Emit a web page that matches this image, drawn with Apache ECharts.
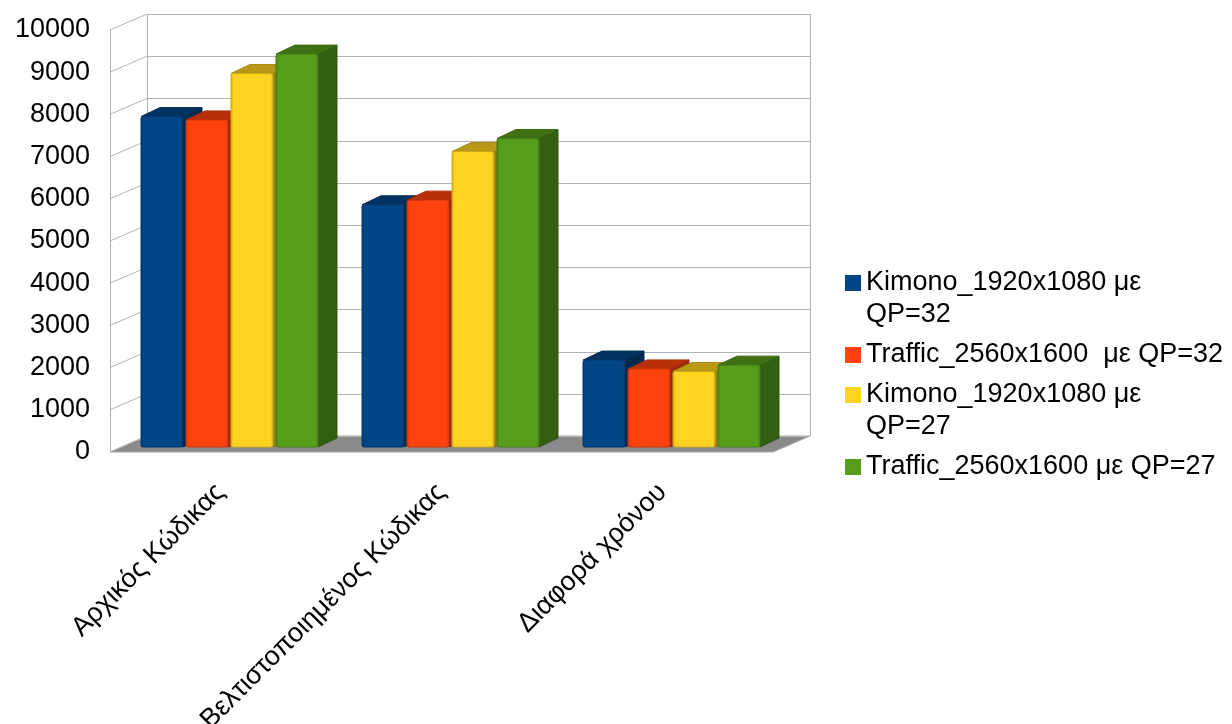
<!DOCTYPE html>
<html>
<head>
<meta charset="utf-8">
<script src="https://cdn.jsdelivr.net/npm/echarts@6/dist/echarts.min.js"></script>
<style>
  html, body { margin: 0; padding: 0; background: #ffffff; }
  #chart { width: 1232px; height: 724px; }
</style>
</head>
<body>
<div id="chart"></div>
<script>
// ---- data ----
const categories = ['Αρχικός Κώδικας', 'Βελτιστοποιημένος Κώδικας', 'Διαφορά χρόνου'];
const seriesNames = [
  'Kimono_1920x1080 με QP=32',
  'Traffic_2560x1600  με QP=32',
  'Kimono_1920x1080 με QP=27',
  'Traffic_2560x1600 με QP=27'
];
const kimonoQP32 = [7830, 5740, 2060];
const trafficQP32 = [7750, 5850, 1850];
const kimonoQP27 = [8850, 7000, 1790];
const trafficQP27 = [9310, 7310, 1940];
const valueTicks = [0, 1000, 2000, 3000, 4000, 5000, 6000, 7000, 8000, 9000, 10000];

// ---- styling ----
const palette = ['#004586', '#ff420e', '#ffd320', '#579d1c'];
const seriesValues = [kimonoQP32, trafficQP32, kimonoQP27, trafficQP27];
const twoLineLegend = [true, false, true, false];
const FONT = 'Liberation Sans';
const FONT_SIZE = 27;
const LINE_H = 32;

// pseudo-3D projection offsets (pixels)
const WALL_DEPTH = [37, -16];   // front plane -> back wall
const BAR_SHIFT = [9, -5];      // front plane -> bar front faces
const BAR_DEPTH = [19, -9];     // bar front face -> bar back face
const BAR_FRAC = 42 / 221;      // bar width as share of the category band
const GAP_FRAC = 3 / 221;       // gap between bars as share of the band
const GRID_COLOR = '#b3b3b3';

// legend swatches; the two-line variant keeps the square level with the first line
const ICON = 16;
const SWATCH_ONE_LINE = 'rect';
const SWATCH_TWO_LINE = (function () {
  const h = 2 * LINE_H;
  const t = (LINE_H - ICON) / 2;
  return 'path://M0,' + t + 'L' + ICON + ',' + t + 'L' + ICON + ',' + (t + ICON) + 'L0,' + (t + ICON) + 'Z' +
    ' M0,0L0.01,0 M0,' + h + 'L0.01,' + h;
})();
const legendIconCenters = [283, 355, 395, 467];

function shade(hex, k) {
  const n = parseInt(hex.slice(1), 16);
  const r = Math.round(((n >> 16) & 255) * k);
  const g = Math.round(((n >> 8) & 255) * k);
  const b = Math.round((n & 255) * k);
  return 'rgb(' + r + ',' + g + ',' + b + ')';
}

const px = v => Math.round(v) + 0.5;

// walls, floor and gridlines of the box
function renderFrame(params, api) {
  const cs = params.coordSys;
  const left = cs.x, right = cs.x + cs.width;
  const [dx, dy] = WALL_DEPTH;
  const y = api.coord([0, api.value(1)])[1];
  const line = { stroke: GRID_COLOR, lineWidth: 1 };
  const children = [];
  if (params.dataIndex === 0) {
    const yTop = api.coord([0, valueTicks[valueTicks.length - 1]])[1];
    children.push({
      type: 'polygon',
      shape: { points: [[left, y], [right, y], [right + dx, y + dy], [left + dx, y + dy]] },
      style: { fill: '#8a8a8a', stroke: '#a6a6a6', lineWidth: 1 }
    });
    children.push({ type: 'line', shape: { x1: px(left + dx), y1: yTop + dy, x2: px(left + dx), y2: y + dy }, style: line });
    children.push({ type: 'line', shape: { x1: px(right + dx), y1: yTop + dy, x2: px(right + dx), y2: y + dy }, style: line });
    children.push({ type: 'line', shape: { x1: px(left), y1: yTop, x2: px(left), y2: y }, style: line });
  }
  children.push({ type: 'line', shape: { x1: left + dx, y1: px(y + dy), x2: right + dx, y2: px(y + dy) }, style: line });
  children.push({ type: 'line', shape: { x1: left, y1: y, x2: left + dx, y2: y + dy }, style: line });
  return { type: 'group', children };
}

// one 3D bar: side face, top face, front face
function makeBarRenderer(seriesIdx) {
  const base = palette[seriesIdx];
  return function (params, api) {
    const cat = api.value(0);
    const val = api.value(1);
    const band = api.size([1, 0])[0];
    const w = band * BAR_FRAC;
    const gap = band * GAP_FRAC;
    const groupW = 4 * w + 3 * gap;
    const p0 = api.coord([cat, 0]);
    const p1 = api.coord([cat, val]);
    const x = p0[0] - groupW / 2 + seriesIdx * (w + gap) + BAR_SHIFT[0];
    const yb = p0[1] + BAR_SHIFT[1];
    const yt = p1[1] + BAR_SHIFT[1];
    const [ddx, ddy] = BAR_DEPTH;
    return {
      type: 'group',
      children: [
        {
          type: 'polygon',
          shape: { points: [[x + w, yt], [x + w + ddx, yt + ddy], [x + w + ddx, yb + ddy], [x + w, yb]] },
          style: { fill: shade(base, 0.6), stroke: shade(base, 0.55), lineWidth: 1 }
        },
        {
          type: 'polygon',
          shape: { points: [[x, yt], [x + w, yt], [x + w + ddx, yt + ddy], [x + ddx, yt + ddy]] },
          style: { fill: shade(base, 0.72), stroke: shade(base, 0.66), lineWidth: 1 }
        },
        {
          type: 'rect',
          shape: { x: x, y: yt, width: w, height: yb - yt, r: 2 },
          style: {
            fill: {
              type: 'linear', x: 0, y: 0, x2: 1, y2: 0,
              colorStops: [
                { offset: 0, color: shade(base, 0.82) },
                { offset: 0.07, color: base },
                { offset: 0.93, color: base },
                { offset: 1, color: shade(base, 0.82) }
              ]
            },
            stroke: shade(base, 0.8),
            lineWidth: 1
          }
        }
      ]
    };
  };
}

const chart = echarts.init(document.getElementById('chart'), null, { renderer: 'canvas' });

const barSeries = seriesNames.map((name, i) => ({
  type: 'custom',
  name: name,
  z: 3,
  itemStyle: { color: palette[i] },
  encode: { x: 0, y: 1 },
  data: seriesValues[i].map((v, c) => [c, v]),
  renderItem: makeBarRenderer(i)
}));

const legends = seriesNames.map((name, i) => {
  const two = twoLineLegend[i];
  return {
    data: [{ name: name, icon: two ? SWATCH_TWO_LINE : SWATCH_ONE_LINE }],
    left: 845,
    // box top sits half a line above the first text line's centre
    top: legendIconCenters[i] - LINE_H / 2,
    orient: 'vertical',
    padding: 0,
    itemGap: 0,
    itemWidth: ICON,
    itemHeight: two ? 2 * LINE_H : ICON,
    symbolKeepAspect: true,
    selectedMode: false,
    formatter: two ? (n => n.replace(' QP', '\nQP')) : '{name}',
    textStyle: {
      fontFamily: FONT,
      fontSize: FONT_SIZE,
      lineHeight: LINE_H,
      color: '#000000'
    }
  };
});

const option = {
  animation: false,
  backgroundColor: '#ffffff',
  color: palette,
  textStyle: { fontFamily: FONT },
  grid: {
    left: 110, top: 30, width: 663, height: 422,
    containLabel: false,
    outerBoundsMode: 'none'
  },
  xAxis: {
    type: 'category',
    data: categories,
    boundaryGap: true,
    axisLine: { show: false },
    axisTick: { show: false },
    splitLine: { show: false },
    axisLabel: {
      interval: 0,
      rotate: 45,
      margin: 36,
      fontFamily: FONT,
      fontSize: FONT_SIZE,
      color: '#000000',
      hideOverlap: false
    }
  },
  yAxis: {
    type: 'value',
    min: 0,
    max: 10000,
    interval: 1000,
    axisLine: { show: false },
    axisTick: { show: false },
    splitLine: { show: false },
    axisLabel: {
      margin: 20,
      fontFamily: FONT,
      fontSize: FONT_SIZE,
      color: '#000000',
      formatter: v => String(v)
    }
  },
  legend: legends,
  series: [
    {
      type: 'custom',
      name: 'frame',
      z: 1,
      silent: true,
      encode: { x: 0, y: 1 },
      data: valueTicks.map(v => [0, v]),
      renderItem: renderFrame
    }
  ].concat(barSeries)
};

chart.setOption(option);
</script>
</body>
</html>
